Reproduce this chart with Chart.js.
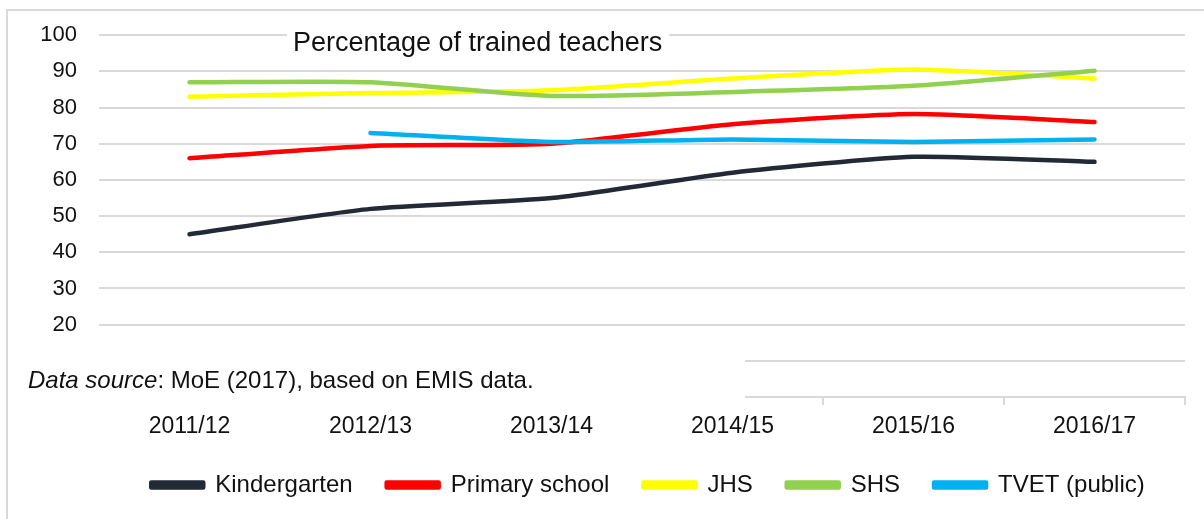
<!DOCTYPE html>
<html>
<head>
<meta charset="utf-8">
<script src="https://cdn.jsdelivr.net/npm/chart.js@4.4.1/dist/chart.umd.min.js"></script>
<style>
    html, body { margin: 0; padding: 0; background: #fff; overflow: hidden; }
    #frame { position: absolute; left: 6px; top: 9px; width: 1300px; height: 600px; border: 2px solid #d9d9d9; }
    #teachersChart { position: absolute; left: 0; top: 0; }
</style>
</head>
<body>
<div id="frame"></div>
<canvas id="teachersChart" width="1204" height="519"></canvas>
<script>
// school years on the x axis
const years = ['2011/12', '2012/13', '2013/14', '2014/15', '2015/16', '2016/17'];

// percentage of trained teachers
const kindergarten = [45, 52, 55, 62, 66.4, 65];
const primarySchool = [66, 69.4, 70, 75.4, 78.2, 76];
const jhs = [83, 84, 84.8, 88, 90.5, 88];
const shs = [87, 87, 83.2, 84.3, 86, 90.2];
const tvet = [null, 73, 70.5, 71.2, 70.5, 71.2];

const seriesNames = ['Kindergarten', 'Primary school', 'JHS', 'SHS', 'TVET (public)'];
const seriesColors = ['#222a36', '#ff0000', '#ffff00', '#92d050', '#00b0f0'];

const chartTitle = 'Percentage of trained teachers';
const sourceItalic = 'Data source';
const sourceRest = ': MoE (2017), based on EMIS data.';

const fontFamily = '"Liberation Sans", Arial, sans-serif';

// title with white background sitting on the top gridline, and the source note box
const notesPlugin = {
    id: 'notes',
    afterLayout(chart) {
        // legend in the original sits a bit right of the plot centre
        chart.legend.left += 6;
        chart.legend.right += 6;
    },
    afterDraw(chart) {
        const ctx = chart.ctx;
        ctx.save();
        // title
        ctx.font = '27px ' + fontFamily;
        const tw = ctx.measureText(chartTitle).width;
        ctx.fillStyle = '#fff';
        ctx.fillRect(287, 24, tw + 13, 36);
        ctx.fillStyle = '#111';
        ctx.textBaseline = 'middle';
        ctx.fillText(chartTitle, 293, 44);

        // source note, covers the bottom of the axis
        ctx.fillStyle = '#fff';
        ctx.fillRect(20, 344, 725, 61);
        ctx.fillStyle = '#111';
        ctx.font = 'italic 24px ' + fontFamily;
        ctx.fillText(sourceItalic, 28, 381);
        const iw = ctx.measureText(sourceItalic).width;
        ctx.font = '24px ' + fontFamily;
        ctx.fillText(sourceRest, 28 + iw, 381);
        ctx.restore();
    }
};

const seriesData = [kindergarten, primarySchool, jhs, shs, tvet];
const datasets = seriesData.map((values, i) => ({
    label: seriesNames[i],
    data: values,
    borderColor: seriesColors[i],
    backgroundColor: seriesColors[i],
    borderWidth: 4.5,
    borderCapStyle: 'round',
    borderJoinStyle: 'round',
    pointRadius: 0,
    pointHoverRadius: 0,
    tension: 0.2,
    spanGaps: false,
    order: seriesData.length - i
}));

const ctx = document.getElementById('teachersChart').getContext('2d');
const chart = new Chart(ctx, {
    type: 'line',
    data: {
        labels: years,
        datasets: datasets
    },
    plugins: [notesPlugin],
    options: {
        responsive: false,
        animation: false,
        devicePixelRatio: 1,
        layout: {
            padding: { top: 35, right: 19, bottom: 12, left: 0 }
        },
        plugins: {
            tooltip: { enabled: false },
            title: { display: false },
            legend: {
                position: 'bottom',
                fullSize: false,
                labels: {
                    boxWidth: 52,
                    boxHeight: 5,
                    padding: 34,
                    color: '#111',
                    font: { family: fontFamily, size: 24 },
                    sort: (a, b) => a.datasetIndex - b.datasetIndex
                }
            }
        },
        scales: {
            x: {
                offset: true,
                grid: {
                    offset: true,
                    drawOnChartArea: false,
                    drawTicks: true,
                    tickLength: 8,
                    color: '#d9d9d9',
                    lineWidth: 2
                },
                border: { display: true, color: '#d9d9d9', width: 2 },
                ticks: {
                    color: '#111',
                    padding: 8,
                    maxRotation: 0,
                    font: { family: fontFamily, size: 23 }
                },
                afterFit(scale) { scale.height = 42; }
            },
            y: {
                min: 0,
                max: 100,
                grid: {
                    color: '#d9d9d9',
                    lineWidth: 2,
                    drawTicks: false
                },
                border: { display: false },
                ticks: {
                    stepSize: 10,
                    color: '#111',
                    padding: 22,
                    font: { family: fontFamily, size: 22 }
                },
                afterFit(scale) { scale.width = 99; }
            }
        }
    }
});
</script>
</body>
</html>
